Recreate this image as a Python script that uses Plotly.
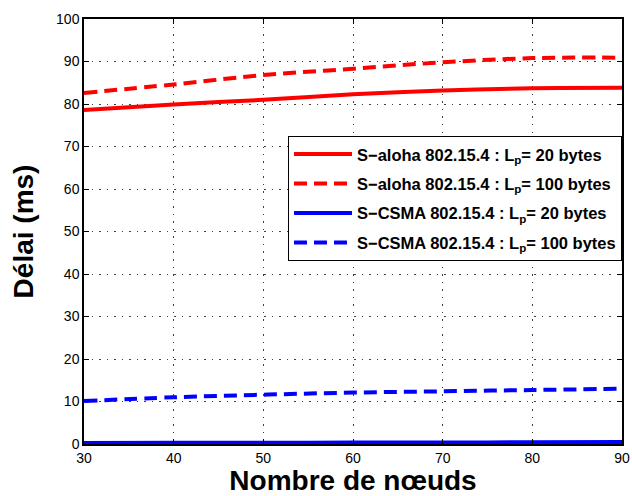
import plotly.graph_objects as go

nodes = [30, 40, 50, 60, 70, 80, 90]
aloha_20 = [78.6, 79.9, 81.0, 82.3, 83.2, 83.7, 83.8]
aloha_100 = [82.6, 84.6, 86.8, 88.3, 89.8, 90.8, 90.9]
csma_20 = [0.25, 0.28, 0.3, 0.33, 0.36, 0.4, 0.45]
csma_100 = [10.1, 11.0, 11.6, 12.1, 12.4, 12.7, 13.0]

names = [
    "S\u2212aloha 802.15.4 : L<sub>p</sub>= 20 bytes",
    "S\u2212aloha 802.15.4 : L<sub>p</sub>= 100 bytes",
    "S\u2212CSMA 802.15.4 : L<sub>p</sub>= 20 bytes",
    "S\u2212CSMA 802.15.4 : L<sub>p</sub>= 100 bytes",
]
series = [aloha_20, aloha_100, csma_20, csma_100]
colors = ["#ff0000", "#ff0000", "#0000ff", "#0000ff"]
dashes = ["solid", "13px,7px", "solid", "13px,7px"]

fig = go.Figure()
for i, (nm, ys, c, d) in enumerate(zip(names, series, colors, dashes)):
    fig.add_trace(go.Scatter(
        x=nodes, y=ys, mode="lines", name="<b>" + nm + "</b>",
        line=dict(color=c, width=4, dash=d, shape="spline"),
        legendgroup=f"g{i}",
    ))

font_family = "Arial, 'Liberation Sans', Helvetica, sans-serif"
axis_common = dict(
    showline=True, linecolor="black", linewidth=1.5, mirror="ticks",
    ticks="inside", ticklen=5, tickcolor="black",
    showgrid=True, gridcolor="rgba(0,0,0,0.75)", griddash="1.5px,6px", gridwidth=1,
    zeroline=False, automargin=False,
    tickfont=dict(family=font_family, size=14, color="black"),
)
fig.update_layout(
    width=632, height=496,
    margin=dict(l=84, r=10, t=19, b=52),
    paper_bgcolor="white", plot_bgcolor="white",
    showlegend=True,
    legend=dict(
        x=1.0, y=0.725, xanchor="right", yanchor="top",
        bgcolor="white", bordercolor="black", borderwidth=1,
        font=dict(family=font_family, size=16.5, color="black"),
        tracegroupgap=5, itemwidth=58,
    ),
    xaxis=dict(range=[30, 90], tickvals=[30, 40, 50, 60, 70, 80, 90],
               title=dict(text="<b>Nombre de nœuds</b>", standoff=4,
                          font=dict(family=font_family, size=28, color="black")),
               **axis_common),
    yaxis=dict(range=[0, 100], tickvals=list(range(0, 101, 10)),
               title=dict(text="<b>Délai (ms)</b>", standoff=14,
                          font=dict(family=font_family, size=28, color="black")),
               **axis_common),
)
fig.write_html("out.html", config={"displayModeBar": False},
               post_script="document.body.style.margin='0px';document.body.style.overflow='hidden';")
